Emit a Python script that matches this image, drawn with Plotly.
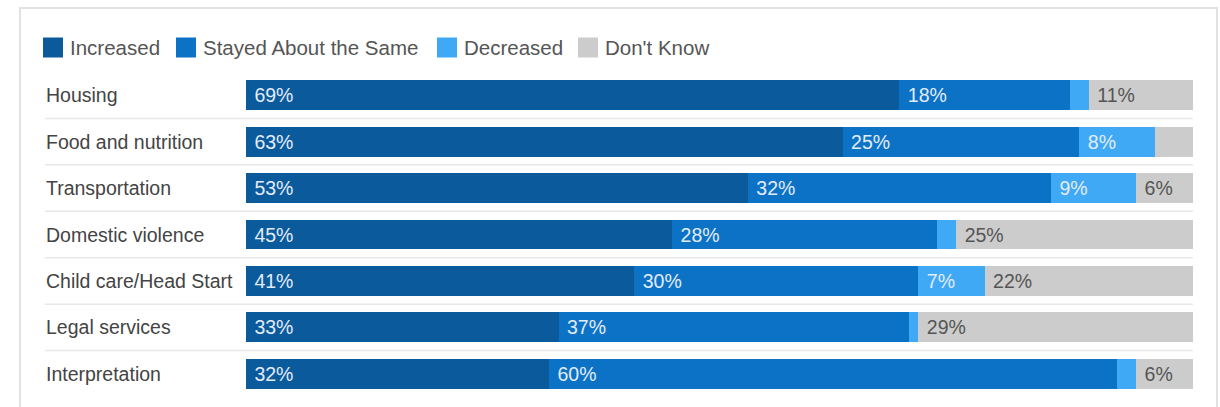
import plotly.graph_objects as go

categories = ["Housing", "Food and nutrition", "Transportation", "Domestic violence",
              "Child care/Head Start", "Legal services", "Interpretation"]
series_names = ["Increased", "Stayed About the Same", "Decreased", "Don't Know"]
increased = [69, 63, 53, 45, 41, 33, 32]
stayed_same = [18, 25, 32, 28, 30, 37, 60]
decreased = [2, 8, 9, 2, 7, 1, 2]
dont_know = [11, 4, 6, 25, 22, 29, 6]
# which segments carry a visible % label
show_increased = [True] * 7
show_same = [True] * 7
show_decreased = [False, True, True, False, True, False, False]
show_dk = [True, False, True, True, True, True, True]

colors = ["#0a5a9c", "#0b72c6", "#3fa9f5", "#cccccc"]
text_colors = ["#e3ecfa", "#e3ecfa", "#e3ecfa", "#555555"]
series = [increased, stayed_same, decreased, dont_know]
shows = [show_increased, show_same, show_decreased, show_dk]

FONT = "Liberation Sans, Arial, sans-serif"
FS = 19.5
FS_LEG = 20.5
W, H = 1220, 407
ML, MR, MT, MB = 246, 27, 72, 10
pw = W - ML - MR
ph = H - MT - MB


def px_x(p):
    return (p - ML) / pw


def px_y(p):
    return (H - MB - p) / ph


fig = go.Figure()
for name, vals, show, col, tcol in zip(series_names, series, shows, colors, text_colors):
    fig.add_trace(go.Bar(
        y=categories, x=vals, name=name, orientation="h",
        marker=dict(color=col, line=dict(width=0)),
        text=[(" %d%%" % v) if s else "" for v, s in zip(vals, show)],
        textposition="inside", insidetextanchor="start",
        textfont=dict(color=tcol, size=FS, family=FONT),
        hoverinfo="skip", showlegend=False,
    ))

shapes = []
annotations = []
# row separators
for i in range(len(categories) - 1):
    shapes.append(dict(type="line", xref="paper", yref="y",
                       x0=px_x(45), x1=1.0, y0=i + 0.5, y1=i + 0.5,
                       line=dict(color="#e8e8e8", width=1.5), layer="below"))
# outer frame
shapes.append(dict(type="rect", xref="paper", yref="paper",
                   x0=px_x(20), x1=px_x(1217), y0=-0.3, y1=px_y(8),
                   line=dict(color="#e2e2e2", width=2), fillcolor="rgba(0,0,0,0)", layer="below"))

# legend (drawn manually to get the large square swatches)
legend_px = [43, 176, 437, 578]
for name, col, lx in zip(series_names, colors, legend_px):
    shapes.append(dict(type="rect", xref="paper", yref="paper",
                       x0=px_x(lx), x1=px_x(lx + 20), y0=px_y(57.5), y1=px_y(37.5),
                       line=dict(width=0), fillcolor=col))
    annotations.append(dict(xref="paper", yref="paper", x=px_x(lx + 25), y=px_y(47),
                            text=name, showarrow=False, xanchor="left", yanchor="middle",
                            font=dict(size=FS_LEG, color="#555555", family=FONT)))

for c in categories:
    annotations.append(dict(xref="paper", yref="y", x=px_x(44), y=c,
                            text=c, showarrow=False, xanchor="left", yanchor="middle",
                            font=dict(size=FS, color="#444444", family=FONT)))

fig.update_layout(
    width=W, height=H,
    margin=dict(l=ML, r=MR, t=MT, b=MB, pad=0),
    barmode="stack", bargap=0.355,
    plot_bgcolor="white", paper_bgcolor="white",
    font=dict(family=FONT, size=FS, color="#555555"),
    xaxis=dict(range=[0, 100], visible=False, fixedrange=True),
    yaxis=dict(autorange="reversed", showticklabels=False, showgrid=False,
               zeroline=False, showline=False, ticks="", fixedrange=True),
    shapes=shapes, annotations=annotations,
    showlegend=False,
)
fig.write_html("out.html", config={"displayModeBar": False},
               post_script="document.body.style.margin='0';")
